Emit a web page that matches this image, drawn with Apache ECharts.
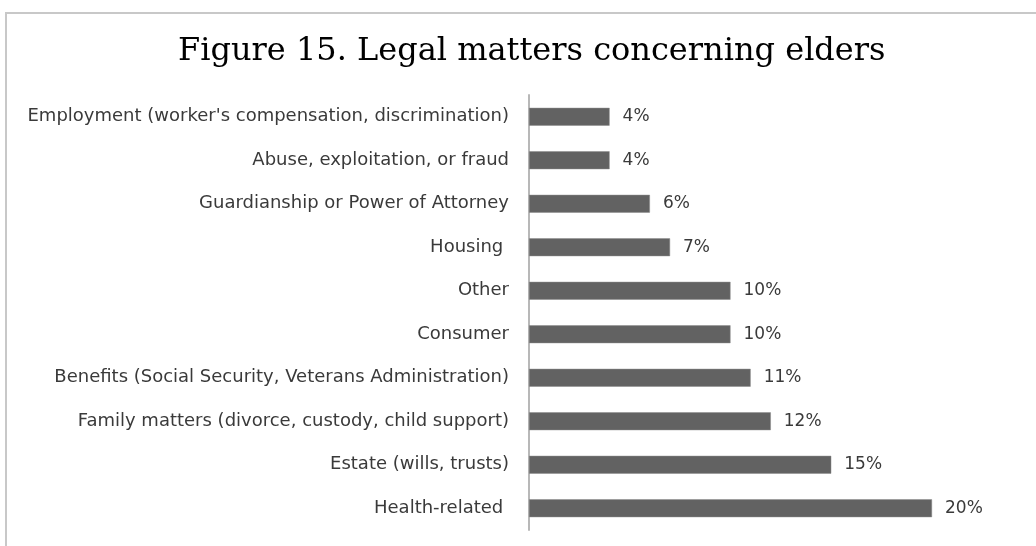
<!DOCTYPE html>
<html>
<head>
<meta charset="utf-8">
<script src="https://cdn.jsdelivr.net/npm/echarts@6/dist/echarts.min.js"></script>
<style>
  html, body { margin: 0; padding: 0; background: #fff; }
  #frame { position: absolute; left: 5px; top: 12px; width: 1040px; height: 560px;
           border-left: 2px solid #c8c8c8; border-top: 2px solid #c8c8c8; box-sizing: border-box; }
  #chart { position: absolute; left: 0; top: 0; width: 1036px; height: 546px; }
</style>
</head>
<body>
<div id="frame"></div>
<div id="chart"></div>
<script>
// Legal matter categories, top to bottom
const categories = [
  "Employment (worker's compensation, discrimination)",
  "Abuse, exploitation, or fraud",
  "Guardianship or Power of Attorney",
  "Housing ",
  "Other",
  "Consumer",
  "Benefits (Social Security, Veterans Administration)",
  "Family matters (divorce, custody, child support)",
  "Estate (wills, trusts)",
  "Health-related "
];
// Share of legal matters, percent
const shares = [4, 4, 6, 7, 10, 10, 11, 12, 15, 20];

const chart = echarts.init(document.getElementById('chart'), null, { renderer: 'canvas' });
chart.setOption({
  animation: false,
  title: {
    text: 'Figure 15. Legal matters concerning elders',
    left: 173,
    top: 31,
    textStyle: { fontFamily: 'DejaVu Serif', fontSize: 32, fontWeight: 'normal', color: '#000' }
  },
  grid: { left: 529, right: 104, top: 95, bottom: 16, containLabel: false },
  xAxis: {
    type: 'value', min: 0, max: 20,
    show: false,
    splitLine: { show: false }
  },
  yAxis: {
    type: 'category',
    data: categories,
    inverse: true,
    axisLine: { show: true, lineStyle: { color: '#b8b8b8', width: 2 } },
    axisTick: { show: false },
    axisLabel: { color: '#3a3a3a', fontFamily: 'DejaVu Sans', fontSize: 18, margin: 20 }
  },
  series: [{
    type: 'bar',
    data: shares,
    barCategoryGap: '59%',
    itemStyle: { color: '#626262', borderColor: '#8a8a8a', borderWidth: 0.5 },
    label: {
      show: true, position: 'right', distance: 13,
      formatter: p => p.value + '%',
      color: '#3a3a3a', fontFamily: 'DejaVu Sans', fontSize: 17
    }
  }]
});
</script>
</body>
</html>
